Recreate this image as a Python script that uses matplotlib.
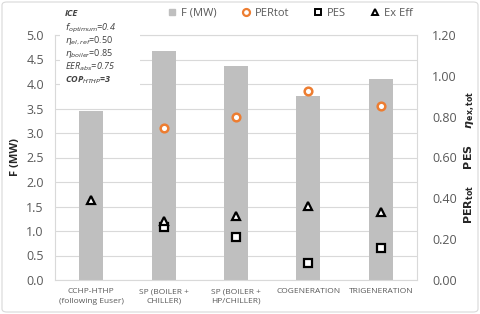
import matplotlib
matplotlib.use("Agg")
import matplotlib.pyplot as plt
import numpy as np
from matplotlib.patches import FancyBboxPatch, Rectangle
from matplotlib.lines import Line2D

plt.rcParams['font.family'] = ['Open Sans', 'DejaVu Sans']
plt.rcParams['mathtext.fontset'] = 'dejavusans'

categories = ["CCHP-HTHP\n(following Euser)", "SP (BOILER +\nCHILLER)", "SP (BOILER +\nHP/CHILLER)",
              "COGENERATION", "TRIGENERATION"]
F_MW = [3.45, 4.68, 4.37, 3.76, 4.10]
PERtot = [np.nan, 0.744, 0.797, 0.926, 0.851]
PES = [np.nan, 0.258, 0.209, 0.083, 0.155]
ExEff = [0.392, 0.290, 0.314, 0.363, 0.332]
left_ticks = [0.0, 0.5, 1.0, 1.5, 2.0, 2.5, 3.0, 3.5, 4.0, 4.5, 5.0]
right_ticks = [0.0, 0.2, 0.4, 0.6, 0.8, 1.0, 1.2]

tick_col = '#595959'
grid_col = '#D9D9D9'

fig = plt.figure(figsize=(4.8, 3.14), dpi=100)
ax = fig.add_axes([55/480, 34/314, (417-55)/480, (280-35)/314])
x = np.arange(len(categories))
ax.bar(x, F_MW, width=0.33, color='#BFBFBF', zorder=2)
ax.set_xlim(-0.5, len(categories)-0.5)
ax.set_ylim(0, 5.0)
ax.set_yticks(left_ticks)
ax.set_yticklabels([f"{v:.1f}" for v in left_ticks], fontsize=9, color=tick_col)
ax.set_xticks(x)
ax.set_xticklabels(categories, fontsize=6, color=tick_col, linespacing=1.5)
ax.yaxis.grid(True, color=grid_col, linewidth=0.8, zorder=0)
ax.set_axisbelow(True)
ax.tick_params(length=0, pad=8)
ax.tick_params(axis='x', pad=6)
for s in ax.spines.values():
    s.set_color(grid_col)
    s.set_linewidth(0.8)
ax.set_ylabel("F (MW)", fontsize=8, fontweight='bold', color='#262626', labelpad=4)

ax2 = ax.twinx()
ax2.set_ylim(0, 1.2)
ax2.set_yticks(right_ticks)
ax2.set_yticklabels([f"{v:.2f}" for v in right_ticks], fontsize=9, color=tick_col)
ax2.tick_params(length=0, pad=11)
for s in ax2.spines.values():
    s.set_visible(False)
ax2.plot(x, PERtot, 'o', ms=5.5, mfc='white', mec='#ED7D31', mew=1.8, zorder=5)
ax2.plot(x, PES, 's', ms=6, mfc='white', mec='black', mew=1.6, zorder=5)
ax2.plot(x, ExEff, '^', ms=5.5, mfc='white', mec='black', mew=1.6, zorder=6)
ax2.set_ylabel(r"$\mathbf{PER_{tot}}$      $\mathbf{PES}$      $\boldsymbol{\eta}_{\mathbf{ex,tot}}$",
               fontsize=8, color='#262626', labelpad=4)

# legend
handles = [
    Line2D([], [], ls='none', marker='s', ms=5, mfc='#BFBFBF', mec='#BFBFBF'),
    Line2D([], [], ls='none', marker='o', ms=5, mfc='white', mec='#ED7D31', mew=1.6),
    Line2D([], [], ls='none', marker='s', ms=5, mfc='white', mec='black', mew=1.4),
    Line2D([], [], ls='none', marker='^', ms=5, mfc='white', mec='black', mew=1.4),
]
fig.legend(handles, ["F (MW)", "PERtot", "PES", "Ex Eff"], ncol=4, loc='center',
           bbox_to_anchor=(290/480, 1-13/314), frameon=False, fontsize=8,
           handlelength=0.8, handletextpad=0.4, columnspacing=2.2, labelcolor=tick_col)

# info box
fig.patches.append(Rectangle((60/480, 1-88/314), 80/480, 83/314, transform=fig.transFigure,
                             facecolor='white', edgecolor='none', zorder=3))
lines = [
    (14, r"ICE", dict(fontweight='bold', style='italic')),
    (28, r"$f_{optimum}$=0.4", dict(style='italic')),
    (41, r"$\eta_{el,ref}$=0.50", dict()),
    (54, r"$\eta_{boiler}$=0.85", dict()),
    (67, r"EER$_{abs}$=0.75", dict(style='italic')),
    (80, r"COP$_{HTHP}$=3", dict(fontweight='bold', style='italic')),
]
for yy, t, kw in lines:
    fig.text(65/480, 1-yy/314, t, fontsize=6.5, color='#404040', va='center', ha='left', zorder=4, **kw)

# outer border
fig.patches.append(FancyBboxPatch((2/480, 2/314), 476/480, 310/314, boxstyle='round,pad=0,rounding_size=0.01',
                                  transform=fig.transFigure, facecolor='none', edgecolor='#D9D9D9', lw=0.8))

fig.savefig("out.png", dpi=100)
